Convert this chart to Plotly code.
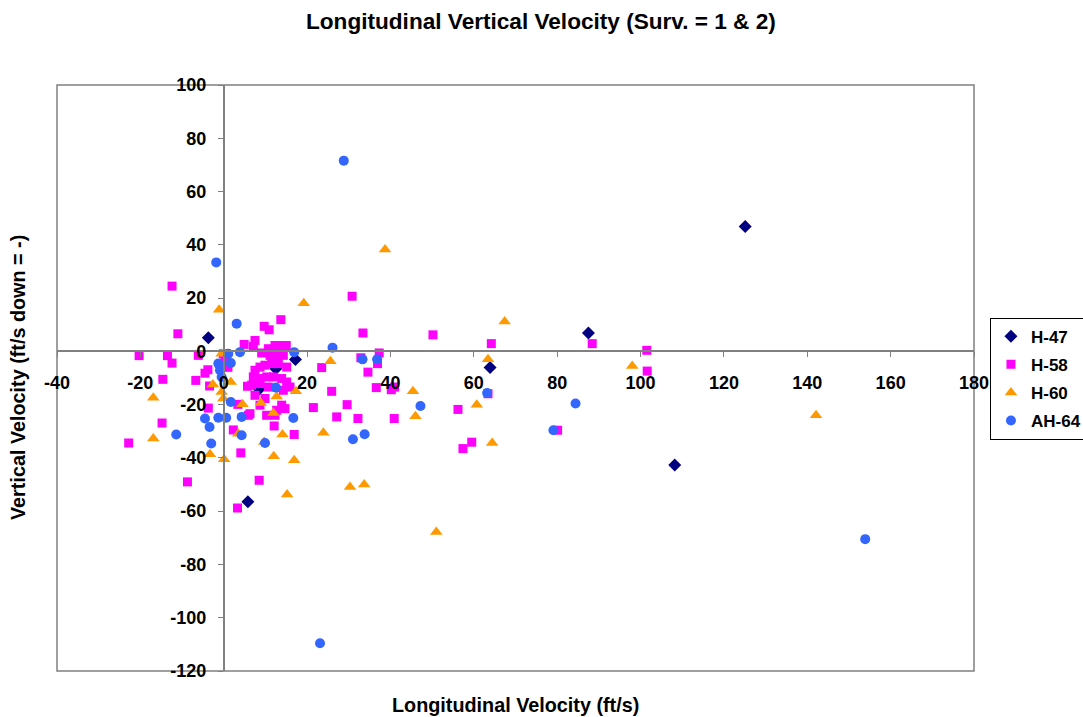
import plotly.graph_objects as go

# ---- data ----
h47_x = [-3.7, 17.2, 8.5, 12.5, 5.8, 87.5, 63.9, 108.2, 125.1]
h47_y = [5.1, -3.1, -14.2, -6.5, -56.5, 6.9, -6.1, -42.7, 46.9]

h58_x = [-12.4, -11.0, -20.3, -13.5, -12.4, 4.9, -3.8, -4.5, -6.7, -14.6,
         -3.4, -3.7, -14.8, -6.1, -0.1, 5.7, 5.9, 3.4, 2.3, -22.8,
         -8.7, 9.7, 10.9, 13.7, 7.5, 9.1, 10.7, 12.3, 13.5, 15.0,
         11.1, 12.7, 14.3, 7.5, 8.7, 9.9, 11.5, 13.1, 15.1, 7.1,
         8.7, 10.3, 11.9, 13.9, 6.7, 8.7, 10.7, 14.3, 15.9, 7.5,
         9.9, 13.9, 6.3, 12.7, 14.7, 21.5, 23.5, 12.1, 30.8, 33.4,
         50.2, 37.3, 32.9, 36.9, 34.6, 15.1, 36.6, 40.2, 41.0, 25.9,
         29.6, 27.1, 32.2, 40.9, 56.2, 16.9, 63.4, 59.5, 57.4, 64.2,
         88.4, 101.5, 101.6, 80.1, 4.1, 8.5, 3.3, 8.7, 10.3, 12.3,
         0.3, 1.0, 7.1, 0.5]
h58_y = [24.5, 6.6, -1.6, -1.6, -4.4, 2.6, -6.9, -8.2, -10.9, -10.5,
         -13.0, -21.3, -26.9, -1.5, -0.9, -13.1, -24.0, -19.9, -29.5, -34.4,
         -49.0, 9.4, 8.1, 11.9, 4.1, -0.6, 1.0, 2.2, 2.2, 2.2,
         -1.5, -1.5, -1.5, -7.1, -5.9, -5.2, -4.6, -4.6, -5.9, -9.6,
         -10.2, -9.6, -9.6, -10.2, -12.7, -12.1, -13.4, -14.6, -13.4, -16.5,
         -17.7, -20.2, -23.4, -22.1, -21.5, -21.1, -6.1, -28.0, 20.7, 6.9,
         6.2, -0.6, -2.4, -4.6, -7.8, -11.5, -13.6, -14.4, -13.4, -15.0,
         -20.0, -24.6, -25.2, -25.2, -21.8, -31.2, -15.9, -34.1, -36.5, 2.9,
         2.9, 0.4, -7.4, -29.6, -38.1, -48.4, -58.8, -20.2, -24.0, -24.0,
         -2.1, -6.0, 1.9, -4.0]

h60_x = [-1.1, -0.5, -2.6, 1.7, -0.5, -0.1, 4.5, -16.9, 19.2, 8.9,
         12.7, 17.3, 11.9, 25.6, 45.4, 46.0, 60.7, -16.9, -3.3, 0.1,
         3.5, 9.7, 14.1, 23.9, 12.0, 16.9, 15.2, 30.3, 33.7, 51.0,
         64.4, 67.4, 63.4, 98.0, 38.7, 142.1]
h60_y = [15.6, -0.9, -12.4, -11.5, -15.3, -17.7, -19.9, -17.4, 18.1, -19.4,
         -16.9, -15.0, -23.1, -3.7, -15.0, -24.4, -20.0, -32.7, -38.6, -40.5,
         -30.9, -34.0, -31.2, -30.6, -39.4, -40.9, -53.7, -50.9, -50.0, -67.8,
         -34.4, 11.2, -3.0, -5.5, 38.2, -24.0]

ah64_x = [-1.8, 28.8, 23.1, 153.9, 84.4, 79.1, 63.2, 47.2, 31.0, 33.8,
          16.7, 16.9, 26.1, 33.3, 36.8, 3.1, 1.1, 3.9, -1.3, 1.7,
          -0.9, -0.5, 1.7, 12.5, 4.3, -4.5, -1.3, 0.6, -3.4, 4.3,
          9.9, -3.0, -11.4]
ah64_y = [33.4, 71.6, -109.6, -70.5, -19.6, -29.6, -15.6, -20.5, -33.0, -31.1,
          -25.0, -0.3, 1.4, -3.0, -3.0, 10.4, -0.9, -0.3, -4.6, -4.4,
          -7.1, -9.6, -19.0, -13.6, -24.6, -25.2, -24.9, -24.9, -28.4, -31.5,
          -34.4, -34.6, -31.2]

x_range = [-40, 180]
y_range = [-120, 100]
x_ticks = [-40, -20, 0, 20, 40, 60, 80, 100, 120, 140, 160, 180]
y_ticks = [-120, -100, -80, -60, -40, -20, 0, 20, 40, 60, 80, 100]
x_ticktext = [str(v) for v in x_ticks]
y_ticktext = [str(v) for v in y_ticks]

FONT = "Arial, Liberation Sans, sans-serif"
AXIS_GRAY = "#808080"

fig = go.Figure()
series = [
    ("H-47", h47_x, h47_y, "diamond", "#000080", 10),
    ("H-58", h58_x, h58_y, "square", "#FF00FF", 9),
    ("H-60", h60_x, h60_y, "triangle-up", "#FF9900", 11),
    ("AH-64", ah64_x, ah64_y, "circle", "#3366FF", 10),
]
for name, xs, ys, sym, col, sz in series:
    fig.add_trace(go.Scatter(
        x=xs, y=ys, mode="markers", name=name, legendgroup=name,
        marker=dict(symbol=sym, color=col, size=sz, line=dict(width=0)),
    ))

# axis crossing positions (fraction of plot area where the other axis is zero)
ypos_frac = (0 - x_range[0]) / (x_range[1] - x_range[0])
xpos_frac = (0 - y_range[0]) / (y_range[1] - y_range[0])

tickfont = dict(family=FONT, size=18, color="black", weight="bold")

fig.update_layout(
    width=1083, height=717,
    margin=dict(l=57, r=109, t=85, b=46, autoexpand=False),
    paper_bgcolor="white", plot_bgcolor="white",
    showlegend=True,
    legend=dict(
        x=1.0174, y=0.603, xanchor="left", yanchor="top",
        bordercolor="black", borderwidth=1,
        font=dict(family=FONT, size=17, color="black", weight="bold"),
        bgcolor="white", itemwidth=30, tracegroupgap=3,
    ),
    xaxis=dict(
        range=x_range, tickvals=x_ticks, ticktext=x_ticktext,
        anchor="free", position=xpos_frac,
        showline=True, linecolor=AXIS_GRAY, linewidth=1.5,
        ticks="outside", ticklen=5, tickcolor=AXIS_GRAY, tickwidth=1,
        showgrid=False, zeroline=False, tickfont=tickfont,
        ticklabelstandoff=10, automargin=False,
    ),
    yaxis=dict(
        range=y_range, tickvals=y_ticks, ticktext=y_ticktext,
        anchor="free", position=ypos_frac,
        showline=True, linecolor=AXIS_GRAY, linewidth=1.5,
        ticks="outside", ticklen=5, tickcolor=AXIS_GRAY, tickwidth=1,
        showgrid=False, zeroline=False, tickfont=tickfont,
        ticklabelstandoff=8, automargin=False,
    ),
    shapes=[dict(type="rect", xref="paper", yref="paper", x0=0, x1=1, y0=0, y1=1,
                 line=dict(color=AXIS_GRAY, width=1.5), layer="below")],
    annotations=[
        dict(text="Longitudinal Vertical Velocity (Surv. = 1 & 2)",
             xref="paper", yref="paper", x=0.5273, y=1.0, yshift=64,
             showarrow=False, xanchor="center", yanchor="middle",
             font=dict(family=FONT, size=22.6, color="black", weight="bold")),
        dict(text="Longitudinal Velocity (ft/s)",
             xref="paper", yref="paper", x=0.5, y=0, yshift=-34,
             showarrow=False, xanchor="center", yanchor="middle",
             font=dict(family=FONT, size=19.8, color="black", weight="bold")),
        dict(text="Vertical Velocity (ft/s down = -)",
             xref="paper", yref="paper", x=0, xshift=-39, y=0.5,
             showarrow=False, xanchor="center", yanchor="middle", textangle=-90,
             font=dict(family=FONT, size=19.8, color="black", weight="bold")),
    ],
)

fig.write_html("out.html")
